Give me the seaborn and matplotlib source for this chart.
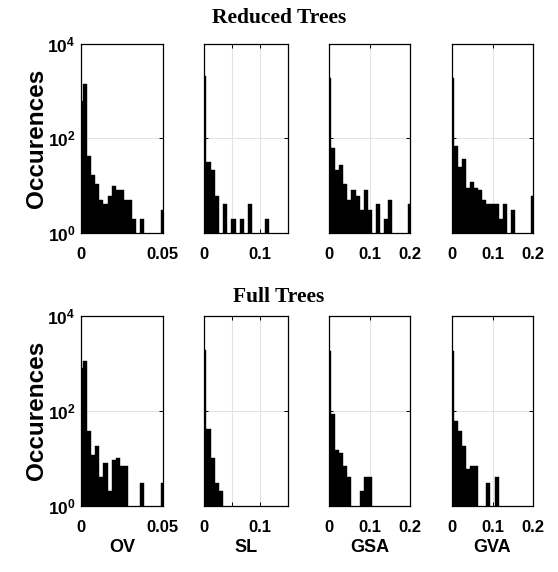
import numpy as np
import pandas as pd
import matplotlib
matplotlib.use("Agg")
import matplotlib.pyplot as plt
import seaborn as sns

# ---------------- data (histogram counts per bin) ----
metrics = ["OV", "SL", "GSA", "GVA"]
bin_widths = [0.0025, 0.0075, 0.01, 0.01]
x_limits = [(0, 0.05), (0, 0.15), (0, 0.2), (0, 0.2)]
x_ticks = [[0, 0.05], [0, 0.05, 0.1], [0, 0.1, 0.2], [0, 0.1, 0.2]]
x_ticklabels = [["0", "0.05"], ["0", "", "0.1"], ["0", "0.1", "0.2"], ["0", "0.1", "0.2"]]
row_titles = ["Reduced Trees", "Full Trees"]
y_ticks = [1, 100, 10000]
y_ticklabels = [r"$\mathbf{10^{0}}$", r"$\mathbf{10^{2}}$", r"$\mathbf{10^{4}}$"]

ov_reduced = [617, 1400, 42, 17, 11, 5, 4, 6, 10, 8, 8, 5, 5, 2, 0, 2, 0, 0, 0, 0, 3]
sl_reduced = [2030, 32, 21, 6, 0, 4, 0, 2, 0, 2, 0, 4, 0, 0, 0, 2, 0, 0, 0, 0, 0]
gsa_reduced = [1870, 63, 21, 27, 11, 5, 8, 6, 3, 8, 3, 0, 4, 0, 2, 5, 0, 0, 0, 0, 4]
gva_reduced = [1900, 67, 25, 36, 9, 12, 9, 8, 5, 4, 4, 4, 2, 4, 0, 3, 0, 0, 0, 0, 6]

ov_full = [795, 1100, 38, 12, 18, 4, 8, 2, 9, 10, 7, 7, 0, 0, 0, 3, 0, 0, 0, 0, 3]
sl_full = [1950, 41, 10, 3, 2, 0, 0, 0, 0, 0, 0, 0, 0, 0, 0, 0, 0, 0, 0, 0, 0]
gsa_full = [1855, 85, 15, 13, 7, 4, 0, 0, 2, 4, 4, 0, 0, 0, 0, 0, 0, 0, 0, 0, 0]
gva_full = [1850, 62, 38, 18, 6, 7, 7, 0, 0, 3, 0, 4, 0, 0, 0, 0, 0, 0, 0, 0, 0]

rows = [[ov_reduced, sl_reduced, gsa_reduced, gva_reduced],
        [ov_full, sl_full, gsa_full, gva_full]]

# ---------------- style ----------------
sns.set_style("white")
plt.rcParams["font.family"] = ["Liberation Sans", "DejaVu Sans"]
plt.rcParams["font.weight"] = "bold"
plt.rcParams["text.color"] = "black"
plt.rcParams["axes.labelcolor"] = "black"
plt.rcParams["xtick.color"] = "black"
plt.rcParams["ytick.color"] = "black"
plt.rcParams["mathtext.fontset"] = "custom"
plt.rcParams["mathtext.rm"] = "Liberation Sans:bold"
plt.rcParams["mathtext.bf"] = "Liberation Sans:bold"
plt.rcParams["mathtext.it"] = "Liberation Sans:bold"

W, H = 558, 572
fig = plt.figure(figsize=(W / 100, H / 100), dpi=100)

col_left = [81, 204.3, 329.3, 452.3]
col_width = [81.7, 83.4, 80.7, 80.4]
row_top = [43.5, 316.0]
row_bottom = [233.0, 505.7]

for r in range(2):
    for c in range(4):
        l, w = col_left[c], col_width[c]
        t, b = row_top[r], row_bottom[r]
        ax = fig.add_axes([l / W, 1 - b / H, w / W, (b - t) / H])
        bw = bin_widths[c]
        counts = rows[r][c]
        n = len(counts)
        df = pd.DataFrame({"value": np.arange(n) * bw,
                           "count": np.asarray(counts, dtype=float)})
        sns.histplot(data=df, x="value", weights="count",
                     binwidth=bw, binrange=(-bw / 2, (n - 0.5) * bw), ax=ax,
                     color="black", alpha=1, edgecolor="black",
                     linewidth=0.3, stat="count")
        ax.set_yscale("log")
        ax.set_ylim(1, 10000)
        ax.set_xlim(*x_limits[c])
        ax.set_xticks(x_ticks[c])
        ax.set_xticklabels(x_ticklabels[c], fontsize=12, fontweight="bold")
        ax.set_yticks(y_ticks)
        ax.minorticks_off()
        if c == 0:
            ax.set_yticklabels(y_ticklabels, fontsize=12.5)
        else:
            ax.set_yticklabels([])
        ax.set_xlabel("")
        ax.set_ylabel("")
        ax.set_axisbelow(True)
        ax.grid(True, color="#e3e3e3", linewidth=0.8)
        ax.tick_params(axis="x", direction="in", length=3, width=0.7,
                       top=True, bottom=True, pad=10, colors="black")
        ax.tick_params(axis="y", direction="in", length=3, width=0.7,
                       left=True, right=True, pad=4, colors="black")
        for s in ax.spines.values():
            s.set_visible(True)
            s.set_color("black")
            s.set_linewidth(0.9)
        if c == 0:
            fig.text(37 / W, 1 - ((t + b) / 2) / H, "Occurences", rotation=90,
                     ha="center", va="center", fontsize=17.5, fontweight="bold")
        if r == 1:
            fig.text((l + w / 2) / W, 1 - 548 / H, metrics[c],
                     ha="center", va="center", fontsize=13, fontweight="bold")

for r, ty in enumerate([18, 297]):
    fig.text(279 / W, 1 - ty / H, row_titles[r], ha="center", va="center",
             fontsize=15.5, fontweight="bold",
             family=["Liberation Serif", "DejaVu Serif"])

fig.savefig("out.png", dpi=100, facecolor="white")
